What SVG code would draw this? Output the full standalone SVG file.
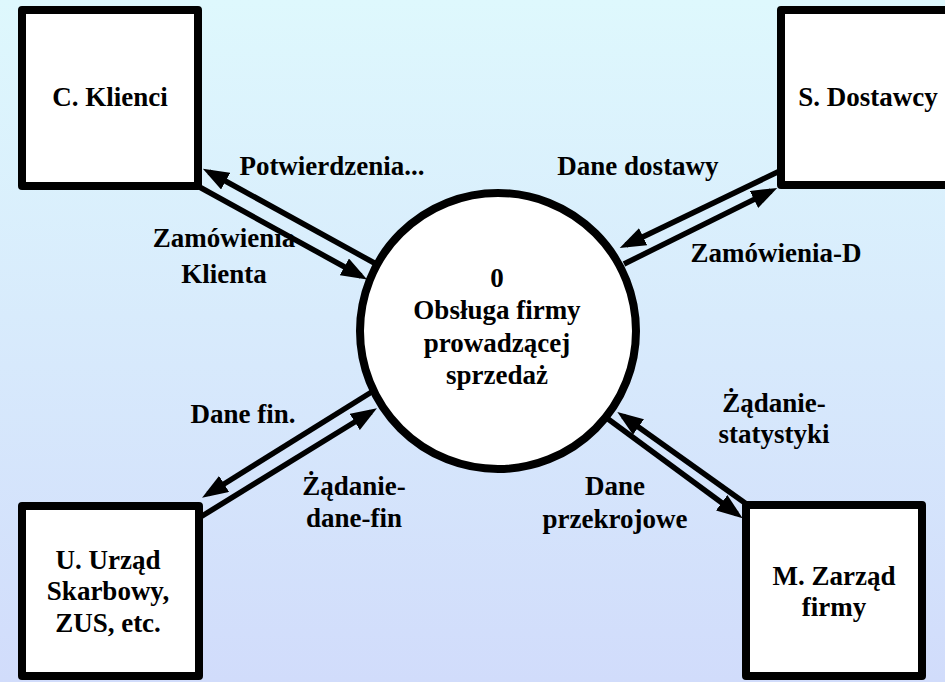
<svg xmlns="http://www.w3.org/2000/svg" width="945" height="682" viewBox="0 0 945 682">
  <defs>
    <linearGradient id="bg" x1="0" y1="0" x2="0" y2="1">
      <stop offset="0" stop-color="#DEF8FD"/>
      <stop offset="1" stop-color="#D1DCFB"/>
    </linearGradient>
    <marker id="head" viewBox="0 0 26 19" refX="19" refY="9.5" markerWidth="26" markerHeight="19" markerUnits="userSpaceOnUse" orient="auto">
      <path d="M0,0 L26,9.5 L0,19 Z" fill="#000"/>
    </marker>
    <style>
      .flow { stroke: #000; stroke-width: 5.5; fill: none; marker-end: url(#head); }
      .ext { fill: #fff; stroke: #000; stroke-width: 8; stroke-linejoin: round; }
      .proc { fill: #fff; stroke: #000; stroke-width: 8; }
      text { font-family: "Liberation Serif", "Times New Roman", serif; font-weight: bold; font-size: 27px; fill: #000; text-anchor: middle; }
    </style>
  </defs>

  <rect x="0" y="0" width="945" height="682" fill="url(#bg)"/>

  <!-- data flows -->
  <g id="connectors">
    <line class="flow" x1="378" y1="265" x2="209" y2="172"/>
    <line class="flow" x1="194" y1="184" x2="361" y2="276"/>
    <line class="flow" x1="786" y1="168" x2="626" y2="245"/>
    <line class="flow" x1="624" y1="264" x2="771" y2="191"/>
    <line class="flow" x1="378" y1="388" x2="208" y2="494"/>
    <line class="flow" x1="194" y1="521" x2="371" y2="412"/>
    <line class="flow" x1="752" y1="508" x2="623" y2="416"/>
    <line class="flow" x1="604" y1="416" x2="737" y2="514"/>
  </g>

  <!-- flow labels -->
  <g id="flow-labels">
    <text x="332" y="175">Potwierdzenia...</text>
    <text x="224" y="247">Zamówienia</text>
    <text x="224" y="283">Klienta</text>
    <text x="638" y="175">Dane dostawy</text>
    <text x="776" y="262">Zamówienia-D</text>
    <text x="243" y="423">Dane fin.</text>
    <text x="354" y="495">Żądanie-</text>
    <text x="354" y="527">dane-fin</text>
    <text x="774" y="412">Żądanie-</text>
    <text x="774" y="443">statystyki</text>
    <text x="615" y="495">Dane</text>
    <text x="615" y="528">przekrojowe</text>
  </g>

  <!-- process -->
  <g id="process-0">
    <circle class="proc" cx="498" cy="331" r="138"/>
    <text x="497" y="287">0</text>
    <text x="497" y="319">Obsługa firmy</text>
    <text x="497" y="352">prowadzącej</text>
    <text x="497" y="384">sprzedaż</text>
  </g>

  <!-- external entities -->
  <g id="entity-klienci">
    <rect class="ext" x="22" y="10" width="176" height="176"/>
    <text x="110" y="106">C. Klienci</text>
  </g>
  <g id="entity-dostawcy">
    <rect class="ext" x="781" y="10" width="180" height="175"/>
    <text x="868" y="106">S. Dostawcy</text>
  </g>
  <g id="entity-urzad">
    <rect class="ext" x="22" y="506" width="177" height="170"/>
    <text x="108" y="569">U. Urząd</text>
    <text x="108" y="600">Skarbowy,</text>
    <text x="108" y="632">ZUS, etc.</text>
  </g>
  <g id="entity-zarzad">
    <rect class="ext" x="746" y="505" width="176" height="171"/>
    <text x="834" y="585">M. Zarząd</text>
    <text x="834" y="616">firmy</text>
  </g>
</svg>
